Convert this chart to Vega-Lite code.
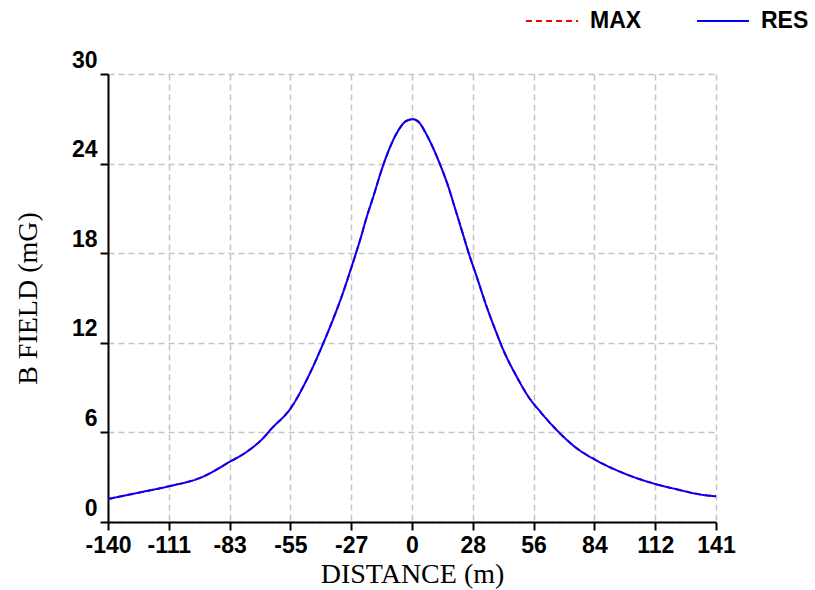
{
  "$schema": "https://vega.github.io/schema/vega-lite/v6.json",
  "width": 608,
  "height": 448,
  "autosize": {"type": "none"},
  "padding": {"left": 108, "top": 74, "right": 99, "bottom": 68},
  "background": "white",
  "data": {"values": [
    {"series": "MAX", "d": -140, "B": 1.54}, {"series": "MAX", "d": -125, "B": 1.99}, {"series": "MAX", "d": -111.3, "B": 2.41}, {"series": "MAX", "d": -97.5, "B": 2.95},
    {"series": "MAX", "d": -83.6, "B": 4.04}, {"series": "MAX", "d": -75.8, "B": 4.71}, {"series": "MAX", "d": -68.8, "B": 5.54}, {"series": "MAX", "d": -64.3, "B": 6.27},
    {"series": "MAX", "d": -55.6, "B": 7.61}, {"series": "MAX", "d": -48.2, "B": 9.51}, {"series": "MAX", "d": -40.5, "B": 11.97}, {"series": "MAX", "d": -35.1, "B": 13.9},
    {"series": "MAX", "d": -32.0, "B": 15.1}, {"series": "MAX", "d": -27.4, "B": 17.1}, {"series": "MAX", "d": -23.5, "B": 18.88}, {"series": "MAX", "d": -20.4, "B": 20.44},
    {"series": "MAX", "d": -17.4, "B": 21.78}, {"series": "MAX", "d": -13.5, "B": 23.6}, {"series": "MAX", "d": -10.5, "B": 24.8}, {"series": "MAX", "d": -6.6, "B": 26.03},
    {"series": "MAX", "d": -1.95, "B": 26.87}, {"series": "MAX", "d": 0.8, "B": 26.97}, {"series": "MAX", "d": 3.4, "B": 26.81}, {"series": "MAX", "d": 7.3, "B": 25.92},
    {"series": "MAX", "d": 10.3, "B": 25.03}, {"series": "MAX", "d": 13.4, "B": 23.97}, {"series": "MAX", "d": 17.3, "B": 22.45}, {"series": "MAX", "d": 20.4, "B": 21.0},
    {"series": "MAX", "d": 24.2, "B": 19.2}, {"series": "MAX", "d": 26.5, "B": 18.1}, {"series": "MAX", "d": 30.4, "B": 16.43}, {"series": "MAX", "d": 35.0, "B": 14.42},
    {"series": "MAX", "d": 39.6, "B": 12.64}, {"series": "MAX", "d": 42.7, "B": 11.52}, {"series": "MAX", "d": 48.9, "B": 9.73}, {"series": "MAX", "d": 54.3, "B": 8.39},
    {"series": "MAX", "d": 60.4, "B": 7.28}, {"series": "MAX", "d": 68.1, "B": 6.05}, {"series": "MAX", "d": 76.6, "B": 4.94}, {"series": "MAX", "d": 85.4, "B": 4.15},
    {"series": "MAX", "d": 96.6, "B": 3.37}, {"series": "MAX", "d": 105.9, "B": 2.86}, {"series": "MAX", "d": 113.1, "B": 2.54}, {"series": "MAX", "d": 122.8, "B": 2.19},
    {"series": "MAX", "d": 135.1, "B": 1.81}, {"series": "MAX", "d": 141, "B": 1.72},
    {"series": "RES", "d": -140, "B": 1.54}, {"series": "RES", "d": -125, "B": 1.99}, {"series": "RES", "d": -111.3, "B": 2.41}, {"series": "RES", "d": -97.5, "B": 2.95},
    {"series": "RES", "d": -83.6, "B": 4.04}, {"series": "RES", "d": -75.8, "B": 4.71}, {"series": "RES", "d": -68.8, "B": 5.54}, {"series": "RES", "d": -64.3, "B": 6.27},
    {"series": "RES", "d": -55.6, "B": 7.61}, {"series": "RES", "d": -48.2, "B": 9.51}, {"series": "RES", "d": -40.5, "B": 11.97}, {"series": "RES", "d": -35.1, "B": 13.9},
    {"series": "RES", "d": -32.0, "B": 15.1}, {"series": "RES", "d": -27.4, "B": 17.1}, {"series": "RES", "d": -23.5, "B": 18.88}, {"series": "RES", "d": -20.4, "B": 20.44},
    {"series": "RES", "d": -17.4, "B": 21.78}, {"series": "RES", "d": -13.5, "B": 23.6}, {"series": "RES", "d": -10.5, "B": 24.8}, {"series": "RES", "d": -6.6, "B": 26.03},
    {"series": "RES", "d": -1.95, "B": 26.87}, {"series": "RES", "d": 0.8, "B": 26.97}, {"series": "RES", "d": 3.4, "B": 26.81}, {"series": "RES", "d": 7.3, "B": 25.92},
    {"series": "RES", "d": 10.3, "B": 25.03}, {"series": "RES", "d": 13.4, "B": 23.97}, {"series": "RES", "d": 17.3, "B": 22.45}, {"series": "RES", "d": 20.4, "B": 21.0},
    {"series": "RES", "d": 24.2, "B": 19.2}, {"series": "RES", "d": 26.5, "B": 18.1}, {"series": "RES", "d": 30.4, "B": 16.43}, {"series": "RES", "d": 35.0, "B": 14.42},
    {"series": "RES", "d": 39.6, "B": 12.64}, {"series": "RES", "d": 42.7, "B": 11.52}, {"series": "RES", "d": 48.9, "B": 9.73}, {"series": "RES", "d": 54.3, "B": 8.39},
    {"series": "RES", "d": 60.4, "B": 7.28}, {"series": "RES", "d": 68.1, "B": 6.05}, {"series": "RES", "d": 76.6, "B": 4.94}, {"series": "RES", "d": 85.4, "B": 4.15},
    {"series": "RES", "d": 96.6, "B": 3.37}, {"series": "RES", "d": 105.9, "B": 2.86}, {"series": "RES", "d": 113.1, "B": 2.54}, {"series": "RES", "d": 122.8, "B": 2.19},
    {"series": "RES", "d": 135.1, "B": 1.81}, {"series": "RES", "d": 141, "B": 1.72}
  ]},
  "mark": {"type": "line", "strokeWidth": 2, "interpolate": "monotone"},
  "encoding": {
    "x": {
      "field": "d", "type": "quantitative",
      "scale": {"domain": [-140, 141], "nice": false, "zero": false},
      "axis": {
        "title": "DISTANCE (m)",
        "values": [-140, -111.9, -83.8, -55.7, -27.6, 0.5, 28.6, 56.7, 84.8, 112.9, 141],
        "labelExpr": "datum.value < 0 ? '-' + floor(-datum.value) : '' + floor(datum.value)",
        "labelPadding": 4,
        "titlePadding": 3
      }
    },
    "y": {
      "field": "B", "type": "quantitative",
      "scale": {"domain": [0, 30], "nice": false},
      "axis": {
        "title": "B FIELD (mG)",
        "values": [0, 6, 12, 18, 24, 30],
        "labelBaseline": "alphabetic",
        "labelOffset": -7,
        "labelPadding": 3,
        "titlePadding": 29
      }
    },
    "color": {
      "field": "series", "type": "nominal",
      "scale": {"domain": ["MAX", "RES"], "range": ["#ff0000", "#0000ff"]},
      "legend": {"title": null, "orient": "none", "legendX": 417, "legendY": -80, "direction": "horizontal"}
    },
    "strokeDash": {
      "field": "series", "type": "nominal",
      "scale": {"domain": ["MAX", "RES"], "range": [[6, 4], [1, 0]]},
      "legend": {"title": null, "orient": "none", "legendX": 417, "legendY": -80, "direction": "horizontal"}
    }
  },
  "config": {
    "view": {"stroke": null},
    "axis": {
      "domainColor": "black",
      "domainWidth": 2,
      "tickColor": "black",
      "tickWidth": 2,
      "tickSize": 8,
      "gridColor": "#c4c4c4",
      "gridDash": [6, 4],
      "gridWidth": 1.5,
      "labelFont": "Liberation Sans",
      "labelFontWeight": "bold",
      "labelFontSize": 23,
      "labelColor": "black",
      "titleFont": "Liberation Serif",
      "titleFontWeight": "normal",
      "titleFontSize": 28,
      "titleColor": "black",
      "labelFlush": false,
      "labelOverlap": false
    },
    "legend": {
      "symbolType": "stroke",
      "symbolSize": 2704,
      "symbolStrokeWidth": 2,
      "labelFont": "Liberation Sans",
      "labelFontWeight": "bold",
      "labelFontSize": 23,
      "labelColor": "black",
      "labelOffset": 11,
      "columnPadding": 51,
      "padding": 0
    }
  }
}
